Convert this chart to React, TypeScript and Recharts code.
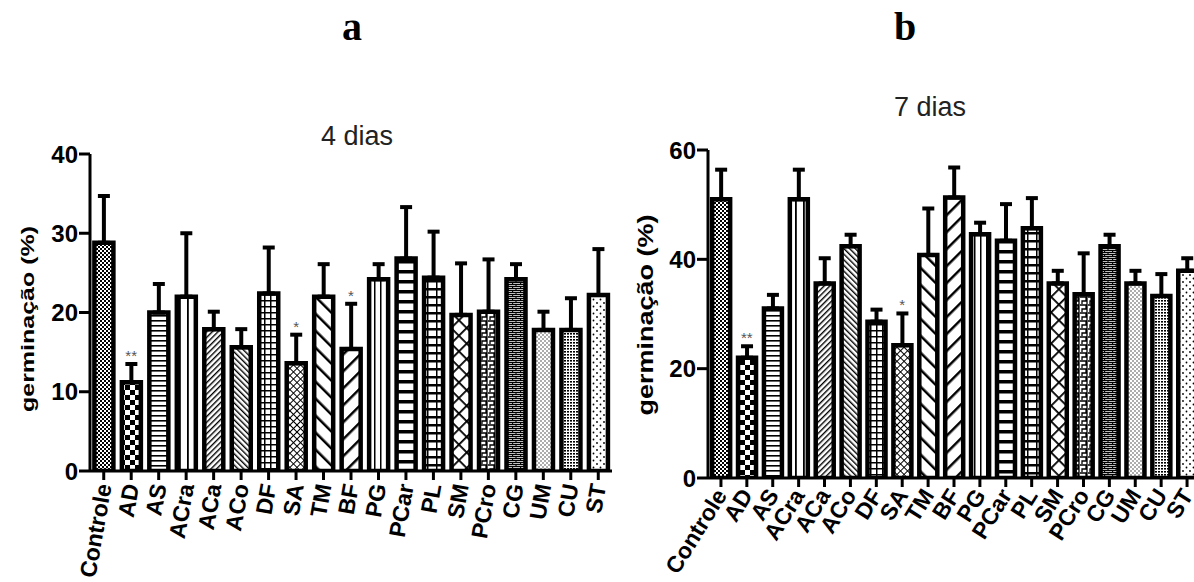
import React from 'react';
import { ComposedChart, Bar, XAxis, YAxis, ErrorBar, Cell, Line, LabelList } from 'recharts';

const categories = ['Controle', 'AD', 'AS', 'ACra', 'ACa', 'ACo', 'DF', 'SA', 'TM', 'BF', 'PG', 'PCar', 'PL', 'SM', 'PCro', 'CG', 'UM', 'CU', 'ST'];

const mean4 = [28.8, 11.2, 20.0, 22.0, 17.9, 15.6, 22.4, 13.6, 22.0, 15.4, 24.2, 26.8, 24.4, 19.7, 20.1, 24.2, 17.8, 17.8, 22.2];
const upper4 = [34.7, 13.5, 23.6, 30.0, 20.1, 17.9, 28.2, 17.2, 26.1, 21.1, 26.1, 33.3, 30.2, 26.2, 26.7, 26.1, 20.1, 21.8, 28.0];
const sig4 = ['', '**', '', '', '', '', '', '*', '', '*', '', '', '', '', '', '', '', '', ''];

const mean7 = [51.0, 22.0, 31.0, 51.0, 35.6, 42.4, 28.6, 24.3, 40.8, 51.3, 44.6, 43.4, 45.7, 35.6, 33.6, 42.4, 35.6, 33.3, 37.9];
const upper7 = [56.4, 24.1, 33.5, 56.4, 40.2, 44.5, 30.8, 30.1, 49.3, 56.8, 46.7, 50.1, 51.2, 37.9, 41.1, 44.5, 37.9, 37.3, 40.2];
const sig7 = ['', '**', '', '', '', '', '', '*', '', '', '', '', '', '', '', '', '', '', ''];

const ticks4 = [0, 10, 20, 30, 40];
const ticks7 = [0, 20, 40, 60];

const build = (mean: number[], upper: number[], sig: string[]) =>
  categories.map((name, i) => ({
    name,
    mean: mean[i],
    err: [0, Math.round((upper[i] - mean[i]) * 100) / 100],
    top: upper[i],
    sig: sig[i] ? sig[i] : undefined,
  }));

const data4 = build(mean4, upper4, sig4);
const data7 = build(mean7, upper7, sig7);

const FONT = '"Liberation Sans", Arial, Helvetica, sans-serif';

const makeTick = (angle: number, fs: number) => (props: any) => {
  const { x, y, payload } = props;
  return (
    <g transform={`translate(${x},${y})`}>
      <text
        transform={`rotate(${angle})`}
        textAnchor="end"
        dy="0.35em"
        fontSize={fs}
        fontWeight="bold"
        fontFamily={FONT}
        fill="#000"
      >
        {payload.value}
      </text>
    </g>
  );
};

const YTick = (props: any) => {
  const { x, y, payload } = props;
  return (
    <text x={x} y={y} dy="0.36em" textAnchor="end" fontSize={24} fontWeight="bold" fontFamily={FONT} fill="#000">
      {payload.value}
    </text>
  );
};

const Patterns = () => (
  <defs>
    <pattern id="pat0" width="4" height="4" patternUnits="userSpaceOnUse">
      <rect width="4" height="4" fill="#fff" />
      <rect width="2" height="2" fill="#000" />
      <rect x="2" y="2" width="2" height="2" fill="#000" />
    </pattern>
    <pattern id="pat1" width="10" height="10" patternUnits="userSpaceOnUse">
      <rect width="10" height="10" fill="#fff" />
      <rect width="5" height="5" fill="#000" />
      <rect x="5" y="5" width="5" height="5" fill="#000" />
    </pattern>
    <pattern id="pat2" width="4" height="5" patternUnits="userSpaceOnUse">
      <rect width="4" height="5" fill="#fff" />
      <rect width="4" height="1.6" fill="#000" />
    </pattern>
    <pattern id="pat3" width="8" height="4" patternUnits="userSpaceOnUse">
      <rect width="8" height="4" fill="#fff" />
      <rect x="3" width="1.8" height="4" fill="#000" />
    </pattern>
    <pattern id="pat4" width="4" height="4" patternUnits="userSpaceOnUse" patternTransform="rotate(45)">
      <rect width="4" height="4" fill="#fff" />
      <rect width="1.4" height="4" fill="#000" />
    </pattern>
    <pattern id="pat5" width="4" height="4" patternUnits="userSpaceOnUse" patternTransform="rotate(-45)">
      <rect width="4" height="4" fill="#fff" />
      <rect width="1.4" height="4" fill="#000" />
    </pattern>
    <pattern id="pat6" width="6" height="6" patternUnits="userSpaceOnUse">
      <rect width="6" height="6" fill="#fff" />
      <rect width="6" height="1.5" fill="#000" />
      <rect width="1.5" height="6" fill="#000" />
    </pattern>
    <pattern id="pat7" width="5" height="5" patternUnits="userSpaceOnUse" patternTransform="rotate(45)">
      <rect width="5" height="5" fill="#fff" />
      <rect width="5" height="1" fill="#000" />
      <rect width="1" height="5" fill="#000" />
    </pattern>
    <pattern id="pat8" width="12" height="12" patternUnits="userSpaceOnUse" patternTransform="rotate(-45)">
      <rect width="12" height="12" fill="#fff" />
      <rect width="2.5" height="12" fill="#000" />
    </pattern>
    <pattern id="pat9" width="12" height="12" patternUnits="userSpaceOnUse" patternTransform="rotate(45)">
      <rect width="12" height="12" fill="#fff" />
      <rect width="2.5" height="12" fill="#000" />
    </pattern>
    <pattern id="pat10" width="6" height="4" patternUnits="userSpaceOnUse">
      <rect width="6" height="4" fill="#fff" />
      <rect x="2" width="1.5" height="4" fill="#000" />
    </pattern>
    <pattern id="pat11" width="4" height="10" patternUnits="userSpaceOnUse">
      <rect width="4" height="10" fill="#fff" />
      <rect width="4" height="3.5" fill="#000" />
    </pattern>
    <pattern id="pat12" width="9" height="8" patternUnits="userSpaceOnUse">
      <rect width="9" height="8" fill="#fff" />
      <rect width="9" height="2.5" fill="#000" />
      <rect x="4" width="1.5" height="8" fill="#000" />
    </pattern>
    <pattern id="pat13" width="11" height="11" patternUnits="userSpaceOnUse" patternTransform="rotate(45)">
      <rect width="11" height="11" fill="#fff" />
      <rect width="11" height="1.8" fill="#000" />
      <rect width="1.8" height="11" fill="#000" />
    </pattern>
    <pattern id="pat14" width="8" height="8" patternUnits="userSpaceOnUse">
      <rect width="8" height="8" fill="#fff" />
      <path d="M0 1 H6 V5 H2 V8 M7 0 V8" stroke="#000" strokeWidth="1.3" fill="none" />
    </pattern>
    <pattern id="pat15" width="8" height="4" patternUnits="userSpaceOnUse">
      <rect width="8" height="4" fill="#fff" />
      <path d="M0 0.6 H8 M0 2.6 H8 M4 0.6 V2.6 M0.6 2.6 V4" stroke="#000" strokeWidth="1.1" fill="none" />
    </pattern>
    <pattern id="pat16" width="4" height="4" patternUnits="userSpaceOnUse">
      <rect width="4" height="4" fill="#fff" />
      <circle cx="1" cy="1" r="0.8" fill="#444" />
      <circle cx="3" cy="3" r="0.8" fill="#444" />
    </pattern>
    <pattern id="pat17" width="3" height="3" patternUnits="userSpaceOnUse">
      <rect width="3" height="3" fill="#fff" />
      <rect width="2" height="1.6" fill="#000" />
    </pattern>
    <pattern id="pat18" width="7" height="7" patternUnits="userSpaceOnUse">
      <rect width="7" height="7" fill="#fff" />
      <circle cx="2" cy="2" r="0.9" fill="#000" />
      <circle cx="5.5" cy="5.5" r="0.9" fill="#000" />
    </pattern>
  </defs>
);

const axisLine = { stroke: '#000', strokeWidth: 3 };

const Panel = ({ data, domain, ticks, margin, angle, width }: any) => (
  <ComposedChart width={width} height={582} data={data} margin={margin} barCategoryGap="16%">
    <XAxis
      dataKey="name"
      interval={0}
      height={100}
      axisLine={axisLine}
      tickLine={{ stroke: '#000', strokeWidth: 3 }}
      tickSize={9}
      tickMargin={4}
      tick={makeTick(angle, 23)}
    />
    <YAxis
      width={50}
      domain={domain}
      ticks={ticks}
      interval={0}
      allowDataOverflow
      axisLine={axisLine}
      tickLine={{ stroke: '#000', strokeWidth: 3 }}
      tickSize={11}
      tickMargin={1}
      tick={<YTick />}
    />
    <Bar dataKey="mean" stroke="#000" strokeWidth={4.5} isAnimationActive={false}>
      {data.map((_: any, i: number) => (
        <Cell key={i} fill={`url(#pat${i})`} />
      ))}
      <ErrorBar dataKey="err" width={6} strokeWidth={4} stroke="#000" direction="y" />
    </Bar>
    <Line dataKey="top" stroke="none" dot={false} activeDot={false} isAnimationActive={false} legendType="none">
      <LabelList dataKey="sig" position="top" offset={3} fill="#555" fontSize={15} fontFamily={FONT} />
    </Line>
  </ComposedChart>
);

export default function App() {
  return (
    <div style={{ position: 'absolute', left: 0, top: 0, width: 1194, height: 582, overflow: 'hidden', background: '#fff' }}>
      <svg width={0} height={0} style={{ position: 'absolute' }}>
        <Patterns />
      </svg>
      <div style={{ position: 'absolute', left: 0, top: 0 }}>
        <Panel
          data={data4}
          domain={[0, 40]}
          ticks={ticks4}
          width={620}
          angle={-80}
          margin={{ top: 154, right: 8, bottom: 11, left: 40 }}
        />
      </div>
      <div style={{ position: 'absolute', left: 600, top: 0 }}>
        <Panel
          data={data7}
          domain={[0, 60]}
          ticks={ticks7}
          width={620}
          angle={-58}
          margin={{ top: 150, right: 20, bottom: 4, left: 58 }}
        />
      </div>
      <svg width={1194} height={582} style={{ position: 'absolute', left: 0, top: 0, pointerEvents: 'none' }}>
        <text x={352} y={40} textAnchor="middle" fontFamily='"Liberation Serif", "Times New Roman", serif' fontWeight="bold" fontSize={40} fill="#000">a</text>
        <text x={905} y={40} textAnchor="middle" fontFamily='"Liberation Serif", "Times New Roman", serif' fontWeight="bold" fontSize={40} fill="#000">b</text>
        <text x={357} y={145} textAnchor="middle" fontFamily={FONT} fontSize={27} fill="#222">4 dias</text>
        <text x={930} y={116} textAnchor="middle" fontFamily={FONT} fontSize={27} fill="#222">7 dias</text>
        <text transform="translate(33.5,319) scale(0.75,1) rotate(-90)" textAnchor="middle" fontFamily={FONT} fontWeight="bold" fontSize={25} fill="#000">germinação (%)</text>
        <text transform="translate(653,315) scale(0.8,1) rotate(-90)" textAnchor="middle" fontFamily={FONT} fontWeight="bold" fontSize={27} fill="#000">germinação (%)</text>
      </svg>
    </div>
  );
}
